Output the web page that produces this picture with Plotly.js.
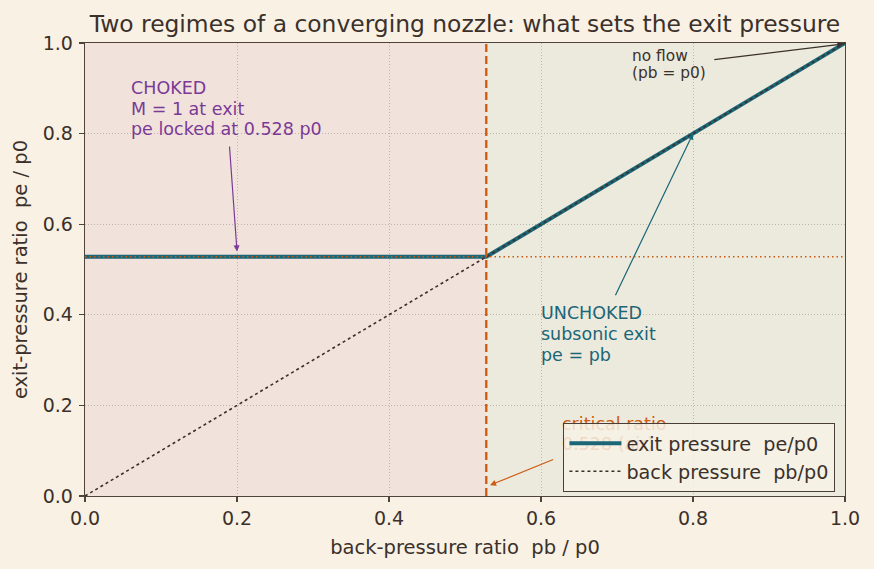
<!DOCTYPE html>
<html>
<head>
<meta charset="utf-8">
<script src="https://cdn.plot.ly/plotly-3.0.1.min.js"></script>
<style>
  html, body { margin: 0; padding: 0; background: #f8f1e4; }
  #chart { width: 874px; height: 569px; }
</style>
</head>
<body>
<div id="chart"></div>
<script>
// Converging nozzle: exit pressure vs back pressure (both normalised by p0)
const criticalRatio = 0.528;
const exitPb = [0.0, 0.528, 1.0];
const exitPe = [0.528, 0.528, 1.0];
const backPb = [0.0, 1.0];
const backPe = [0.0, 1.0];
const xTicks = [0, 0.2, 0.4, 0.6, 0.8, 1.0];
const yTicks = [0, 0.2, 0.4, 0.6, 0.8, 1.0];

const chokedNote = ['CHOKED', 'M = 1 at exit', 'pe locked at 0.528 p0'];
const unchokedNote = ['UNCHOKED', 'subsonic exit', 'pe = pb'];
const noFlowNote = ['no flow', '(pb = p0)'];
const criticalNote = ['critical ratio', '0.528 (air)'];

const ink = '#3b302a';
const axisInk = '#4f433b';
const teal = '#1b6677';
const orange = '#cc5a10';
const purple = '#7b3a96';
const nb = '\u00a0';   // keeps the double spaces in labels

const traces = [
  {
    x: exitPb, y: exitPe, mode: 'lines', name: 'exit pressure' + nb + nb + 'pe/p0',
    line: { color: teal, width: 4 }
  },
  {
    x: backPb, y: backPe, mode: 'lines', name: 'back pressure' + nb + nb + 'pb/p0',
    line: { color: ink, width: 1.6, dash: 'dot' }
  }
];

const axisCommon = {
  range: [0, 1],
  showline: true, mirror: true, linecolor: axisInk, linewidth: 1.3,
  ticks: 'outside', ticklen: 5, tickcolor: axisInk, tickwidth: 1.2,
  showgrid: true, gridcolor: '#bdb5aa', griddash: '1px,2px', gridwidth: 1,
  zeroline: false,
  tickfont: { size: 19, color: ink }
};

// multi-line note, one annotation per line for tight line spacing
function note(lines, x, y, size, color, lineGap, xshift) {
  return lines.map((t, i) => ({
    x: x, y: y, xref: 'x', yref: 'y', xanchor: 'left', yanchor: 'top',
    showarrow: false, text: t, yshift: -i * lineGap, xshift: xshift || 0,
    font: { size: size, color: color }
  }));
}

function arrow(x, y, ax, ay, color) {
  return { x: x, y: y, ax: ax, ay: ay, xref: 'x', yref: 'y', axref: 'x', ayref: 'y',
    showarrow: true, arrowhead: 2, arrowsize: 1, arrowwidth: 1.2, arrowcolor: color, text: '' };
}

const layout = {
  width: 874, height: 569,
  paper_bgcolor: '#f8f1e4',
  plot_bgcolor: 'rgba(0,0,0,0)',
  margin: { l: 85, r: 29, t: 43, b: 73 },
  font: { family: 'DejaVu Sans', color: ink, size: 19 },
  title: {
    text: 'Two regimes of a converging nozzle: what sets the exit pressure',
    font: { size: 23.4, color: ink },
    xref: 'paper', x: 0.5, xanchor: 'center', yref: 'container', y: 0.958, yanchor: 'middle'
  },
  xaxis: Object.assign({}, axisCommon, {
    tickvals: xTicks, ticktext: xTicks.map(v => v.toFixed(1)),
    title: { text: 'back-pressure ratio' + nb + nb + 'pb / p0', font: { size: 19.5 }, standoff: 12 }
  }),
  yaxis: Object.assign({}, axisCommon, {
    tickvals: yTicks, ticktext: yTicks.map(v => v.toFixed(1)),
    ticklabelstandoff: 2,
    title: { text: 'exit-pressure ratio' + nb + nb + 'pe / p0', font: { size: 19.5 }, standoff: 10 }
  }),
  shapes: [
    { type: 'rect', xref: 'x', yref: 'paper', x0: 0, x1: criticalRatio, y0: 0, y1: 1,
      fillcolor: '#f1e3dc', line: { width: 0 }, layer: 'below' },
    { type: 'rect', xref: 'x', yref: 'paper', x0: criticalRatio, x1: 1, y0: 0, y1: 1,
      fillcolor: '#ece9dd', line: { width: 0 }, layer: 'below' },
    { type: 'line', xref: 'paper', yref: 'y', x0: 0, x1: 1, y0: criticalRatio, y1: criticalRatio,
      line: { color: orange, width: 1.5, dash: '1.5px,3px' }, layer: 'above' },
    { type: 'line', xref: 'x', yref: 'paper', x0: criticalRatio, x1: criticalRatio, y0: 0, y1: 1,
      line: { color: orange, width: 2.3, dash: '8px,4px' }, layer: 'above' }
  ],
  annotations: [].concat(
    [arrow(0.2, 0.54, 0.19, 0.775, purple)],
    note(chokedNote, 0.06, 0.927, 17.5, purple, 20.5, -2),
    [arrow(0.8, 0.8, 0.697, 0.44, teal)],
    note(unchokedNote, 0.6, 0.431, 17.5, teal, 21, -2),
    [arrow(0.998, 0.998, 0.826, 0.963, ink)],
    note(noFlowNote, 0.72, 0.995, 15.4, ink, 16.5, -2),
    [arrow(0.533, 0.024, 0.618, 0.082, orange)],
    note(criticalNote, 0.627, 0.186, 17.5, orange, 20.5, -2)
  ),
  legend: {
    x: 0.987, y: 0.161, xanchor: 'right', yanchor: 'top',
    bgcolor: 'rgba(247,242,230,0.84)', bordercolor: '#4a3f38', borderwidth: 1.3,
    font: { size: 19.2, color: ink }, tracegroupgap: 0, itemwidth: 52
  },
  showlegend: true
};

Plotly.newPlot('chart', traces, layout, { displayModeBar: false, staticPlot: true }).then(() => {
  // draw the legend box over the annotation text it sits on
  const leg = document.querySelector('#chart .legend');
  if (leg && leg.parentNode) leg.parentNode.appendChild(leg);
});
</script>
</body>
</html>
